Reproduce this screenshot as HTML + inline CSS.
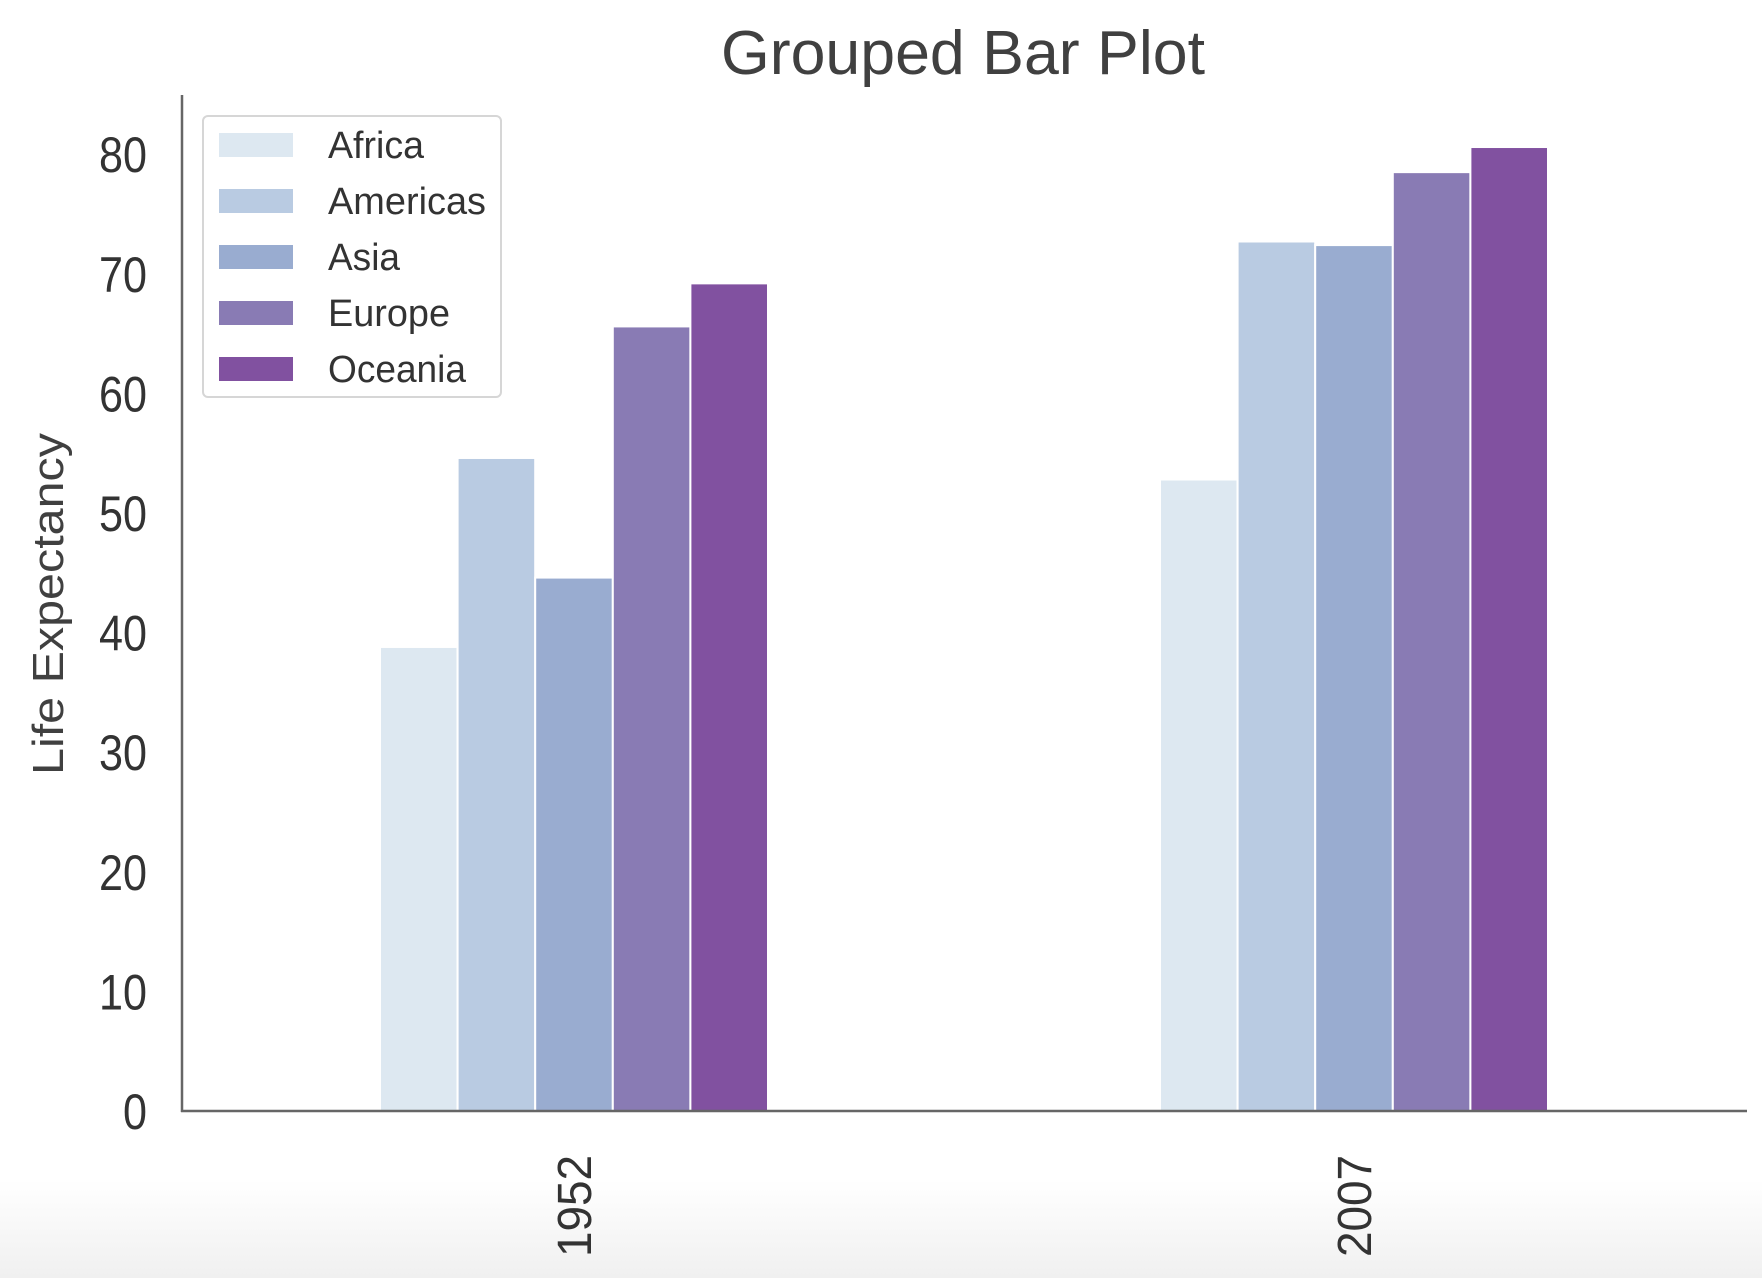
<!DOCTYPE html>
<html><head><meta charset="utf-8"><style>
html,body{margin:0;padding:0;background:#fff;}
svg{display:block;font-family:"Liberation Sans",sans-serif;}
</style></head><body>
<svg id="chart" width="1762" height="1278" viewBox="0 0 1762 1278">
<defs><linearGradient id="bg" x1="0" y1="0" x2="0" y2="1">
<stop offset="0" stop-color="#ffffff"/><stop offset="1" stop-color="#f0f0f0"/></linearGradient></defs>
<rect x="0" y="1180" width="1762" height="98" fill="url(#bg)"/>
<text x="963" y="74" font-size="62" fill="#404040" text-anchor="middle" textLength="484" lengthAdjust="spacingAndGlyphs">Grouped Bar Plot</text>
<g id="bars"></g>
<g id="yticks"></g>
<g id="xticks"></g>
<line x1="182" y1="95" x2="182" y2="1112" stroke="#666" stroke-width="2.5"/>
<line x1="181" y1="1111" x2="1747" y2="1111" stroke="#666" stroke-width="2.5"/>
<text transform="translate(63,604) rotate(-90)" font-size="44" fill="#404040" text-anchor="middle" textLength="342" lengthAdjust="spacingAndGlyphs">Life Expectancy</text>
<g id="legend">
<rect x="203" y="116" width="298" height="281" rx="5" fill="#fff" stroke="#d6d6d6" stroke-width="2"/>
</g>
</svg>
<script>
const categories = ["1952", "2007"];
const seriesNames = ["Africa", "Americas", "Asia", "Europe", "Oceania"];
const africa = [38.8, 52.8];
const americas = [54.6, 72.7];
const asia = [44.6, 72.4];
const europe = [65.6, 78.5];
const oceania = [69.2, 80.6];
const yTicks = [0, 10, 20, 30, 40, 50, 60, 70, 80];
const colors = ["#dde8f1", "#b9cbe2", "#99acd0", "#897bb4", "#8151a0"];
const series = [africa, americas, asia, europe, oceania];

const NS = "http://www.w3.org/2000/svg";
const y0 = 1111, pxPer = 11.96;
function yScale(v){ return y0 - v * pxPer; }
const groupCenters0 = 574, groupStep = 780, groupWidth = 388;
function xCenter(i){ return groupCenters0 + i * groupStep; }
const barW = groupWidth / seriesNames.length;

const bars = document.getElementById("bars");
categories.forEach((c, ci) => {
  const start = xCenter(ci) - groupWidth / 2;
  series.forEach((s, si) => {
    const r = document.createElementNS(NS, "rect");
    r.setAttribute("x", start + si * barW);
    r.setAttribute("y", yScale(s[ci]));
    r.setAttribute("width", barW);
    r.setAttribute("height", y0 - yScale(s[ci]));
    r.setAttribute("fill", colors[si]);
    r.setAttribute("stroke", "#fff");
    r.setAttribute("stroke-width", "2");
    
    
    bars.appendChild(r);
  });
});

const yt = document.getElementById("yticks");
yTicks.forEach(t => {
  const tx = document.createElementNS(NS, "text");
  tx.setAttribute("x", 147);
  tx.setAttribute("y", yScale(t) + 18);
  tx.setAttribute("font-size", "50");
  tx.setAttribute("fill", "#333");
  tx.setAttribute("text-anchor", "end");
  tx.setAttribute("textLength", String(t).length * 24);
  tx.setAttribute("lengthAdjust", "spacingAndGlyphs");
  tx.textContent = t;
  
  
  yt.appendChild(tx);
});

const xt = document.getElementById("xticks");
categories.forEach((c, ci) => {
  const tx = document.createElementNS(NS, "text");
  tx.setAttribute("transform", "translate(" + (xCenter(ci) + 17) + ",1257) rotate(-90)");
  tx.setAttribute("font-size", "48");
  tx.setAttribute("fill", "#333");
  tx.setAttribute("text-anchor", "start");
  tx.setAttribute("textLength", "102");
  tx.setAttribute("lengthAdjust", "spacingAndGlyphs");
  tx.textContent = c;
  
  
  xt.appendChild(tx);
});

const lg = document.getElementById("legend");
const lw = [96, 158, 72, 122, 138];
seriesNames.forEach((n, i) => {
  const cy = 145 + i * 56;
  const sw = document.createElementNS(NS, "rect");
  sw.setAttribute("x", 219);
  sw.setAttribute("y", cy - 12);
  sw.setAttribute("width", 74);
  sw.setAttribute("height", 24);
  sw.setAttribute("fill", colors[i]);
  
  
  lg.appendChild(sw);
  const tx = document.createElementNS(NS, "text");
  tx.setAttribute("x", 328);
  tx.setAttribute("y", cy + 13);
  tx.setAttribute("font-size", "38");
  tx.setAttribute("fill", "#333");
  tx.setAttribute("textLength", lw[i]);
  tx.setAttribute("lengthAdjust", "spacingAndGlyphs");
  tx.textContent = n;
  
  
  lg.appendChild(tx);
});
</script>
</body></html>
